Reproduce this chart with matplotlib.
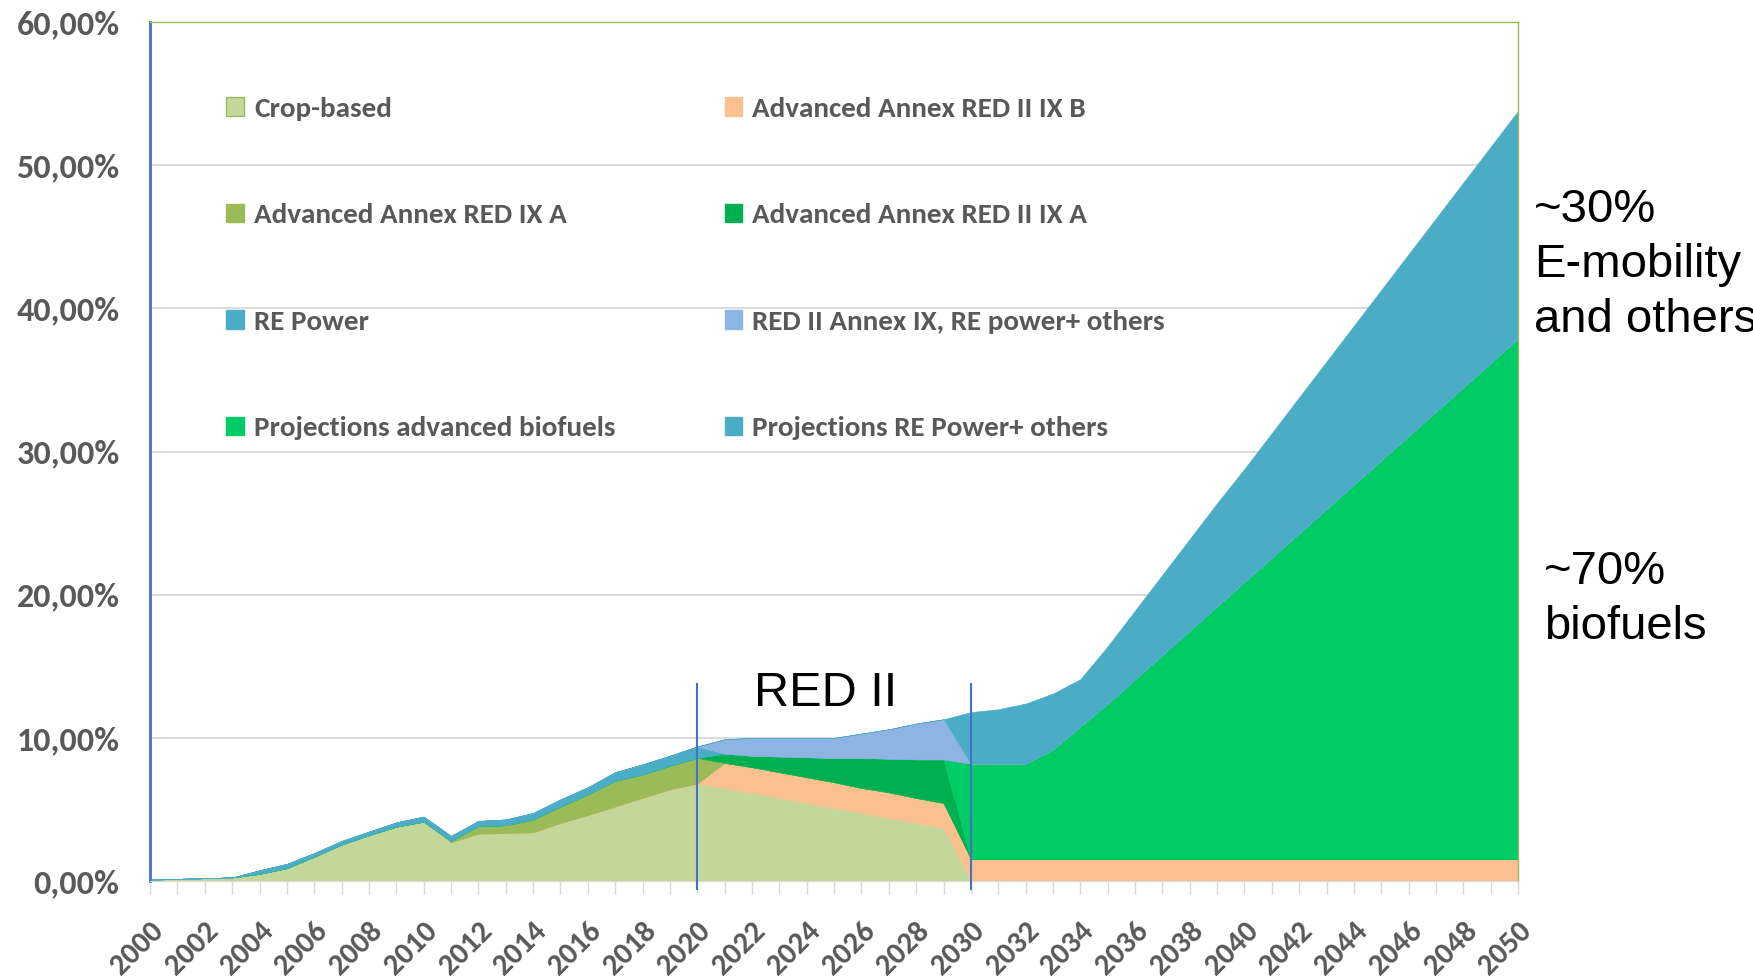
import matplotlib
matplotlib.use("Agg")
import matplotlib.pyplot as plt
from matplotlib.patches import Patch
from matplotlib import font_manager

years = list(range(2000, 2051))

# shares of transport energy, %
crop_based = [0.1, 0.15, 0.2, 0.25, 0.5, 0.9, 1.7, 2.55, 3.2, 3.8,
              4.15, 2.7, 3.3, 3.35, 3.4, 4.05, 4.6, 5.2, 5.8, 6.4,
              6.8, 6.5, 6.15, 5.8, 5.45, 5.1, 4.75, 4.4, 4.05, 3.7,
              0, 0, 0, 0, 0, 0, 0, 0, 0, 0,
              0, 0, 0, 0, 0, 0, 0, 0, 0, 0, 0]
red2_ix_b = [0, 0, 0, 0, 0, 0, 0, 0, 0, 0,
             0, 0, 0, 0, 0, 0, 0, 0, 0, 0,
             0, 1.75, 1.8, 1.8, 1.8, 1.8, 1.75, 1.8, 1.75, 1.75,
             1.55, 1.55, 1.55, 1.55, 1.55, 1.55, 1.55, 1.55, 1.55, 1.55,
             1.55, 1.55, 1.55, 1.55, 1.55, 1.55, 1.55, 1.55, 1.55, 1.55, 1.55]
red_ix_a = [0, 0, 0, 0, 0, 0, 0, 0, 0, 0,
            0, 0.1, 0.55, 0.55, 0.9, 1.15, 1.45, 1.8, 1.65, 1.65,
            1.8, 0, 0, 0, 0, 0, 0, 0, 0, 0,
            0, 0, 0, 0, 0, 0, 0, 0, 0, 0,
            0, 0, 0, 0, 0, 0, 0, 0, 0, 0, 0]
red2_ix_a = [0, 0, 0, 0, 0, 0, 0, 0, 0, 0,
             0, 0, 0, 0, 0, 0, 0, 0, 0, 0,
             0, 0.65, 0.8, 1.1, 1.4, 1.7, 2.1, 2.35, 2.7, 3.05,
             0, 0, 0, 0, 0, 0, 0, 0, 0, 0,
             0, 0, 0, 0, 0, 0, 0, 0, 0, 0, 0]
proj_biofuels = [0, 0, 0, 0, 0, 0, 0, 0, 0, 0,
                 0, 0, 0, 0, 0, 0, 0, 0, 0, 0,
                 0, 0, 0, 0, 0, 0, 0, 0, 0, 0,
                 6.65, 6.65, 6.65, 7.65, 9.25, 10.85, 12.55, 14.25, 15.95, 17.65,
                 19.35, 21.05, 22.75, 24.45, 26.15, 27.85, 29.55, 31.25, 32.95, 34.65, 36.35]
re_power = [0, 0, 0, 0, 0.25, 0.3, 0.25, 0.25, 0.25, 0.3,
            0.35, 0.35, 0.35, 0.4, 0.45, 0.5, 0.5, 0.6, 0.7, 0.7,
            0.8, 0, 0, 0, 0, 0, 0, 0, 0, 0,
            0, 0, 0, 0, 0, 0, 0, 0, 0, 0,
            0, 0, 0, 0, 0, 0, 0, 0, 0, 0, 0]
red2_re_others = [0, 0, 0, 0, 0, 0, 0, 0, 0, 0,
                  0, 0, 0, 0, 0, 0, 0, 0, 0, 0,
                  0, 1.0, 1.25, 1.3, 1.35, 1.4, 1.7, 2.05, 2.5, 2.8,
                  0, 0, 0, 0, 0, 0, 0, 0, 0, 0,
                  0, 0, 0, 0, 0, 0, 0, 0, 0, 0, 0]
proj_re_others = [0, 0, 0, 0, 0, 0, 0, 0, 0, 0,
                  0, 0, 0, 0, 0, 0, 0, 0, 0, 0,
                  0, 0, 0, 0, 0, 0, 0, 0, 0, 0,
                  3.6, 3.8, 4.2, 3.9, 3.3, 4.0, 4.8, 5.6, 6.4, 7.2,
                  7.9, 8.7, 9.5, 10.3, 11.1, 11.9, 12.7, 13.5, 14.3, 15.1, 15.9]

# pick a Calibri-like family that really has a bold face
bold_fams = {f.name for f in font_manager.fontManager.ttflist
             if (f.weight if isinstance(f.weight, int) else 400) >= 600 or f.weight in ('bold', 'heavy', 'black', 'semibold', 'demibold')}
narrow = next((n for n in ['Carlito', 'Lato', 'Open Sans', 'Roboto', 'Noto Sans'] if n in bold_fams), 'DejaVu Sans')
arial = 'Liberation Sans'
grey = '#595959'

c_crop = '#c4d79b'
c_ixb = '#fac090'
c_ixa = '#9bbb59'
c_red2a = '#00b050'
c_projbio = '#00cc66'
c_re = '#4bacc6'
c_red2re = '#8eb4e3'
c_projre = '#4bacc6'

fig = plt.figure(figsize=(17.53, 9.76), dpi=100)
ax = fig.add_axes([0.0856, 0.0973, 0.7804, 0.8801])

polys = ax.stackplot(years, crop_based, red2_ix_b, red_ix_a, red2_ix_a, proj_biofuels,
                     re_power, red2_re_others, proj_re_others,
                     colors=[c_crop, c_ixb, c_ixa, c_red2a, c_projbio, c_re, c_red2re, c_projre],
                     linewidth=0.4, zorder=2)
for p in polys:
    p.set_edgecolor(p.get_facecolor())

ax.set_xlim(2000, 2050)
ax.set_ylim(0, 60)
ax.set_axisbelow(True)
ax.grid(axis='y', color='#d9d9d9', linewidth=1.3)

ax.set_yticks(range(0, 61, 10))
ax.set_yticklabels([f"{v:.2f}%".replace('.', ',') for v in range(0, 61, 10)],
                   fontfamily=narrow, fontweight='bold', fontsize=24.5, color=grey)
ax.tick_params(axis='y', length=0, pad=22)

ax.set_xticks(years)
ax.set_xticklabels([str(y) if y % 2 == 0 else '' for y in years],
                   rotation=45, ha='right', rotation_mode='anchor',
                   fontfamily=narrow, fontweight='bold', fontsize=22, color=grey)
ax.tick_params(axis='x', length=9, width=1, color='#d9d9d9', pad=17)

ax.spines['left'].set_color('#4472c4')
ax.spines['left'].set_linewidth(2)
ax.spines['top'].set_color('#9bbb59')
ax.spines['right'].set_color('#9bbb59')
ax.spines['top'].set_linewidth(1)
ax.spines['right'].set_linewidth(1)
ax.spines['bottom'].set_color('#d9d9d9')

# RED II period markers
for yr in [2020, 2030]:
    ax.plot([yr, yr], [-0.55, 13.75], color='#4472c4', linewidth=1.5, clip_on=False, zorder=4)

ax.text(2024.7, 12.2, 'RED II', fontfamily=arial, fontsize=35, ha='center', va='baseline', zorder=5)
ax.text(2050.58, 48.4, '~30%\nE-mobility\nand others', fontfamily=arial, fontsize=34,
        ha='left', va='top', linespacing=1.32, clip_on=False)
ax.text(2050.95, 23.1, '~70%\nbiofuels', fontfamily=arial, fontsize=34,
        ha='left', va='top', linespacing=1.32, clip_on=False)

handles = [
    Patch(facecolor=c_crop, edgecolor='#9bbb59', label='Crop-based'),
    Patch(facecolor=c_ixa, edgecolor=c_ixa, label='Advanced Annex RED IX A'),
    Patch(facecolor=c_re, edgecolor=c_re, label='RE Power'),
    Patch(facecolor=c_projbio, edgecolor=c_projbio, label='Projections advanced biofuels'),
    Patch(facecolor=c_ixb, edgecolor=c_ixb, label='Advanced Annex RED II IX B'),
    Patch(facecolor=c_red2a, edgecolor=c_red2a, label='Advanced Annex RED II IX A'),
    Patch(facecolor=c_red2re, edgecolor=c_red2re, label='RED II Annex IX, RE power+ others'),
    Patch(facecolor=c_projre, edgecolor=c_projre, label='Projections RE Power+ others'),
]
leg = ax.legend(handles=handles, ncol=2, loc='upper left', bbox_to_anchor=(0.045, 0.93),
                frameon=False, handlelength=0.6, handleheight=0.6, handletextpad=0.35,
                labelspacing=2.83, columnspacing=3.75, borderpad=0,
                prop={'family': narrow, 'weight': 'bold', 'size': 21})
for t in leg.get_texts():
    t.set_color(grey)

fig.savefig('out.png', dpi=100)
